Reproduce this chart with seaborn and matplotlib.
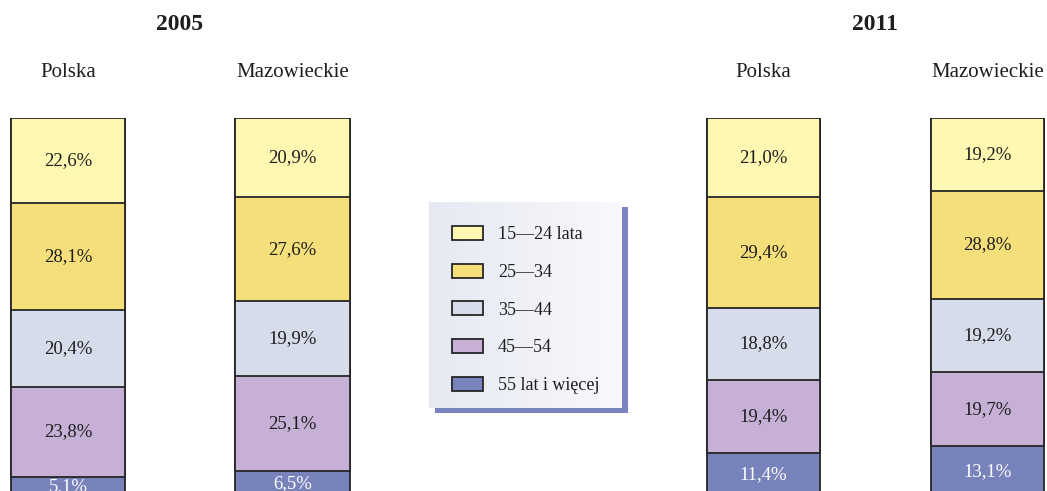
import numpy as np
import pandas as pd
import matplotlib
matplotlib.use("Agg")
import matplotlib.pyplot as plt
from matplotlib.patches import Patch, Rectangle
import seaborn as sns

# -----------------------------
# Data (shares of employed by age group, %)
# -----------------------------
YEARS = ["2005", "2011"]
REGIONS = ["Polska", "Mazowieckie"]
AGE_GROUPS = ["15\u201424 lata", "25\u201434", "35\u201444", "45\u201454", "55 lat i wi\u0119cej"]

# order within each list: 2005 Polska, 2005 Mazowieckie, 2011 Polska, 2011 Mazowieckie
age_15_24 = [22.6, 20.9, 21.0, 19.2]
age_25_34 = [28.1, 27.6, 29.4, 28.8]
age_35_44 = [20.4, 19.9, 18.8, 19.2]
age_45_54 = [23.8, 25.1, 19.4, 19.7]
age_55_plus = [5.1, 6.5, 11.4, 13.1]

COLORS = ["#fff8b2", "#f5df7a", "#d7dcea", "#c6b0d5", "#7882bb"]
TEXT_COLORS = ["#1e1e1e", "#1e1e1e", "#1e1e1e", "#1e1e1e", "white"]
EDGE = "#262626"

W, H = 1047, 491


def build_frame():
    series = [age_15_24, age_25_34, age_35_44, age_45_54, age_55_plus]
    rows = []
    for i, (year, region) in enumerate([(y, r) for y in YEARS for r in REGIONS]):
        cum = 0.0
        for g, vals in enumerate(series):
            v = vals[i]
            rows.append({"year": year, "region": region, "group": AGE_GROUPS[g],
                         "gidx": g, "value": v, "start": cum, "cum": cum + v})
            cum += v
    return pd.DataFrame(rows)


def draw_year(fig, df, rect, xlim, title_x):
    ax = fig.add_axes(rect)
    # draw cumulative bars from the deepest layer up, so each layer covers the next
    for g in reversed(range(len(AGE_GROUPS))):
        sub = df[df["gidx"] == g]
        sns.barplot(data=sub, x="region", y="cum", order=REGIONS, color=COLORS[g],
                    saturation=1, width=0.508, edgecolor=EDGE, linewidth=1.3,
                    errorbar=None, ax=ax)
    for _, r in df.iterrows():
        xi = REGIONS.index(r["region"])
        ax.text(xi, (r["start"] + r["cum"]) / 2, f"{r['value']:.1f}%".replace(".", ","),
                ha="center", va="center", fontsize=13.5, color=TEXT_COLORS[r["gidx"]])

    ax.set_xlim(*xlim)
    ax.set_ylim(98.7, 0)
    ax.set_xlabel("")
    ax.set_ylabel("")
    ax.set_yticks([])
    ax.xaxis.tick_top()
    ax.tick_params(axis="x", length=0, pad=26, labelsize=15, colors="#1e1e1e")
    for s in ax.spines.values():
        s.set_visible(False)
    ax.patch.set_alpha(0)

    fig.text(title_x / W, 1 - 25 / H, df["year"].iloc[0], ha="center", va="center",
             fontsize=17, fontweight="bold", color="#1e1e1e")
    return ax


def draw_legend(fig):
    # legend box with blue drop shadow, in pixel coordinates
    lax = fig.add_axes([0, 0, 1, 1])
    lax.set_xlim(0, W)
    lax.set_ylim(H, 0)
    lax.axis("off")
    x0, y0, x1, y1 = 429, 202, 622, 408
    lax.add_patch(Rectangle((x0 + 6, y0 + 5), x1 - x0, y1 - y0, facecolor="#7b84c0",
                            edgecolor="none"))
    grad = np.linspace(0, 1, 256).reshape(1, -1)
    cmap = matplotlib.colors.LinearSegmentedColormap.from_list("lg", ["#e6e9f2", "#f8f9fc"])
    lax.imshow(grad, extent=(x0, x1, y1, y0), cmap=cmap, aspect="auto", zorder=2)
    lax.set_xlim(0, W)
    lax.set_ylim(H, 0)

    handles = [Patch(facecolor=c, edgecolor=EDGE, linewidth=1.3) for c in COLORS]
    leg = lax.legend(handles, AGE_GROUPS, loc="upper left",
                     bbox_to_anchor=(452 / W, 1 - 226 / H), bbox_transform=fig.transFigure,
                     frameon=False, fontsize=13, handlelength=1.7, handleheight=0.82,
                     handletextpad=0.85, labelspacing=1.13, borderpad=0, borderaxespad=0)
    for t in leg.get_texts():
        t.set_color("#1e1e1e")
    leg.set_zorder(5)


def main():
    sns.set_theme(style="white")
    plt.rcParams["font.family"] = ["Liberation Serif", "DejaVu Serif"]

    df = build_frame()
    fig = plt.figure(figsize=(W / 100, H / 100), dpi=100)
    fig.patch.set_facecolor("white")

    ax_h = (H - 118) / H
    draw_year(fig, df[df["year"] == "2005"], [0, 0, 360 / W, ax_h],
              (-68 / 224.5, (360 - 68) / 224.5), 180)
    draw_year(fig, df[df["year"] == "2011"], [690 / W, 0, 357 / W, ax_h],
              ((690 - 763.5) / 224, (1047 - 763.5) / 224), 875)
    draw_legend(fig)

    fig.savefig("out.png", dpi=100)
    plt.close(fig)


if __name__ == "__main__":
    main()
